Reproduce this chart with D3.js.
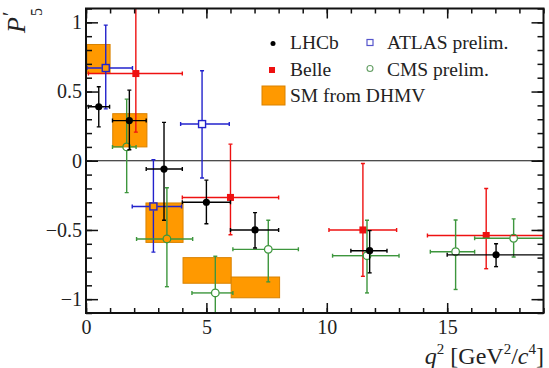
<!DOCTYPE html>
<html>
<head>
<meta charset="utf-8">
<script src="https://cdn.jsdelivr.net/npm/d3@7"></script>
<style>
  body { margin: 0; background: #fff; }
  svg text { font-family: 'Liberation Serif', 'DejaVu Serif', serif; fill: #222; }
</style>
</head>
<body>
<div id="root"></div>
<script>
// ---- data ----
// LHCb
const lhcbX    = [0.53, 1.80, 3.24, 5.00, 7.02, 11.78, 17.03];
const lhcbLo   = [0.10, 1.10, 2.50, 4.00, 6.00, 11.00, 15.00];
const lhcbHi   = [0.98, 2.50, 4.00, 6.00, 8.00, 12.50, 19.00];
const lhcbY    = [0.39, 0.29, -0.06, -0.30, -0.50, -0.65, -0.68];
const lhcbTop  = [0.535, 0.51, 0.277, -0.14, -0.375, -0.505, -0.60];
const lhcbBot  = [0.245, 0.08, -0.43, -0.455, -0.63, -0.81, -0.765];
// Belle
const belleX   = [2.07, 6.00, 11.50, 16.62];
const belleLo  = [0.10, 4.00, 10.09, 14.18];
const belleHi  = [4.00, 8.00, 12.90, 19.00];
const belleY   = [0.63, -0.265, -0.50, -0.54];
const belleTop = [1.30, 0.12, -0.02, -0.20];
const belleBot = [0.207, -0.535, -0.835, -0.78];
// ATLAS
const atlasX   = [0.82, 2.80, 4.82];
const atlasLo  = [0.04, 1.92, 3.93];
const atlasHi  = [1.93, 3.97, 5.95];
const atlasY   = [0.67, -0.33, 0.265];
const atlasTop = [0.98, 0.007, 0.65];
const atlasBot = [0.375, -0.66, -0.125];
// CMS
const cmsX     = [1.69, 3.36, 5.37, 7.57, 11.67, 15.35, 17.76];
const cmsLo    = [1.10, 2.10, 4.40, 6.10, 10.24, 14.30, 16.14];
const cmsHi    = [2.08, 4.43, 6.10, 8.82, 13.00, 16.14, 19.00];
const cmsY     = [0.10, -0.565, -0.955, -0.64, -0.686, -0.657, -0.56];
const cmsTop   = [0.445, -0.195, -0.69, -0.43, -0.43, -0.428, -0.42];
const cmsBot   = [-0.23, -0.91, -1.30, -0.875, -0.955, -0.93, -0.695];
// SM from DHMV (bins and bands)
const smLo     = [0.05, 1.11, 2.49, 4.03, 6.03];
const smHi     = [1.00, 2.53, 4.03, 6.03, 8.04];
const smBandLo = [0.63, 0.10, -0.59, -0.885, -0.99];
const smBandHi = [0.84, 0.34, -0.305, -0.70, -0.84];

const xTickValues = [0, 5, 10, 15];
const yTickValues = [-1, -0.5, 0, 0.5, 1];
const legendNames = ['LHCb', 'Belle', 'SM from DHMV', 'ATLAS prelim.', 'CMS prelim.'];

const root = document.getElementById('root');
const width = 549;
const height = 368;
const pLeft = 86, pRight = 543.5, pTop = 8.5, pBottom = 313;

const orange = '#ff9900';
const orangeEdge = '#d98200';
const colLHCb = '#000000';
const colBelle = '#ee1111';
const colATLAS = '#2222cc';
const colCMS = '#3d963d';

const svg = d3.select(root)
    .append('svg')
    .attr('width', width)
    .attr('height', height);

const x = d3.scaleLinear().domain([0, 19]).range([pLeft, pRight]);
const y = d3.scaleLinear().domain([-1.1, 1.1]).range([pBottom, pTop]);

svg.append('clipPath').attr('id', 'clip')
    .append('rect')
    .attr('x', pLeft).attr('y', pTop)
    .attr('width', pRight - pLeft).attr('height', pBottom - pTop);
const area = svg.append('g').attr('clip-path', 'url(#clip)');

// SM bands
const smData = smLo.map((d, i) => ({lo: d, hi: smHi[i], bl: smBandLo[i], bh: smBandHi[i]}));
area.selectAll('.sm')
    .data(smData)
    .enter()
    .append('rect')
    .attr('class', 'sm')
    .attr('x', d => x(d.lo))
    .attr('y', d => y(d.bh))
    .attr('width', d => x(d.hi) - x(d.lo))
    .attr('height', d => y(d.bl) - y(d.bh))
    .attr('fill', orange)
    .attr('stroke', orangeEdge)
    .attr('stroke-width', 1);

// zero line
area.append('line')
    .attr('x1', x(0)).attr('x2', x(19))
    .attr('y1', y(0)).attr('y2', y(0))
    .attr('stroke', '#111').attr('stroke-width', 1.2);

const makeSeries = (xs, los, his, ys, tops, bots) =>
    xs.map((d, i) => ({x: d, lo: los[i], hi: his[i], y: ys[i], top: tops[i], bot: bots[i]}));

// error bars with a gap around the marker and small end caps
const drawSeries = (data, color, gap, marker) => {
    const g = area.append('g');
    const cap = 2;
    data.forEach(d => {
        const cx = x(d.x), cy = y(d.y);
        const segs = [
            [x(d.lo), cy, cx - gap, cy],
            [cx + gap, cy, x(d.hi), cy],
            [cx, y(d.top), cx, cy - gap],
            [cx, cy + gap, cx, y(d.bot)]
        ];
        segs.forEach(s => {
            g.append('line')
                .attr('x1', s[0]).attr('y1', s[1])
                .attr('x2', s[2]).attr('y2', s[3])
                .attr('stroke', color).attr('stroke-width', 1.4);
        });
        // caps
        [[x(d.lo), cy, 0], [x(d.hi), cy, 0], [cx, y(d.top), 1], [cx, y(d.bot), 1]].forEach(c => {
            g.append('line')
                .attr('x1', c[2] ? c[0] - cap : c[0]).attr('x2', c[2] ? c[0] + cap : c[0])
                .attr('y1', c[2] ? c[1] : c[1] - cap).attr('y2', c[2] ? c[1] : c[1] + cap)
                .attr('stroke', color).attr('stroke-width', 1.4);
        });
        marker(g, cx, cy);
    });
};

const dot = (r, color) => (g, cx, cy) =>
    g.append('circle').attr('cx', cx).attr('cy', cy).attr('r', r).attr('fill', color);
const ring = (r, color) => (g, cx, cy) =>
    g.append('circle').attr('cx', cx).attr('cy', cy).attr('r', r)
        .attr('fill', 'none').attr('stroke', color).attr('stroke-width', 1.3);
const square = (s, color) => (g, cx, cy) =>
    g.append('rect').attr('x', cx - s / 2).attr('y', cy - s / 2)
        .attr('width', s).attr('height', s).attr('fill', color);
const openSquare = (s, color) => (g, cx, cy) =>
    g.append('rect').attr('x', cx - s / 2).attr('y', cy - s / 2)
        .attr('width', s).attr('height', s)
        .attr('fill', 'none').attr('stroke', color).attr('stroke-width', 1.4);

drawSeries(makeSeries(belleX, belleLo, belleHi, belleY, belleTop, belleBot), colBelle, 0, square(7, colBelle));
drawSeries(makeSeries(atlasX, atlasLo, atlasHi, atlasY, atlasTop, atlasBot), colATLAS, 4, openSquare(7, colATLAS));
drawSeries(makeSeries(cmsX, cmsLo, cmsHi, cmsY, cmsTop, cmsBot), colCMS, 4, ring(3.8, colCMS));
drawSeries(makeSeries(lhcbX, lhcbLo, lhcbHi, lhcbY, lhcbTop, lhcbBot), colLHCb, 0, dot(3.6, colLHCb));

// ---- axes, ticks pointing inward ----
const minorX = d3.range(0, 20, 1);
const minorY = d3.range(-11, 12, 1).map(v => v / 10);

const xAxisB = d3.axisBottom(x).tickValues(xTickValues).tickSize(-10).tickPadding(7).tickFormat(d3.format(''));
const xAxisBm = d3.axisBottom(x).tickValues(minorX).tickSize(-5).tickFormat('');
const xAxisT = d3.axisTop(x).tickValues(xTickValues).tickSize(-10).tickFormat('');
const xAxisTm = d3.axisTop(x).tickValues(minorX).tickSize(-5).tickFormat('');
const yAxisL = d3.axisLeft(y).tickValues(yTickValues).tickSize(-12).tickPadding(4).tickFormat(d3.format(''));
const yAxisLm = d3.axisLeft(y).tickValues(minorY).tickSize(-6).tickFormat('');
const yAxisR = d3.axisRight(y).tickValues(yTickValues).tickSize(-12).tickFormat('');
const yAxisRm = d3.axisRight(y).tickValues(minorY).tickSize(-6).tickFormat('');

const addAxis = (axis, tx, ty) => {
    const g = svg.append('g')
        .attr('transform', `translate(${tx},${ty})`)
        .call(axis);
    g.select('.domain').remove();
    g.selectAll('.tick line').attr('stroke', '#111').attr('stroke-width', 1.5);
    g.selectAll('.tick text')
        .attr('font-family', "'Liberation Serif', serif")
        .attr('font-size', 20)
        .attr('fill', '#222');
    return g;
};
addAxis(xAxisBm, 0, pBottom);
addAxis(xAxisB, 0, pBottom);
addAxis(xAxisTm, 0, pTop);
addAxis(xAxisT, 0, pTop);
addAxis(yAxisLm, pLeft, 0);
addAxis(yAxisL, pLeft, 0);
addAxis(yAxisRm, pRight, 0);
addAxis(yAxisR, pRight, 0);

// frame
svg.append('rect')
    .attr('x', pLeft).attr('y', pTop)
    .attr('width', pRight - pLeft).attr('height', pBottom - pTop)
    .attr('fill', 'none').attr('stroke', '#111').attr('stroke-width', 2);

// axis titles
const xt = svg.append('text')
    .attr('x', 544).attr('y', 364)
    .attr('text-anchor', 'end')
    .attr('font-size', 24);
xt.append('tspan').attr('font-style', 'italic').text('q');
xt.append('tspan').attr('font-size', 15).attr('dy', -10).text('2');
xt.append('tspan').attr('dy', 10).text(' [GeV');
xt.append('tspan').attr('font-size', 15).attr('dy', -10).text('2');
xt.append('tspan').attr('dy', 10).text('/');
xt.append('tspan').attr('font-style', 'italic').text('c');
xt.append('tspan').attr('font-size', 15).attr('dy', -10).text('4');
xt.append('tspan').attr('dy', 10).text(']');

const yt = svg.append('g').attr('transform', 'translate(25,33) rotate(-90)');
yt.append('text').attr('x', 0).attr('y', 0)
    .attr('font-size', 26).attr('font-style', 'italic').text('P');
yt.append('text').attr('x', 17).attr('y', -8)
    .attr('font-size', 20).text('\u2032');
yt.append('text').attr('x', 17).attr('y', 17)
    .attr('font-size', 16).text('5');

// ---- legend ----
const legend = svg.append('g');
const legendFont = 19.5;
legend.append('circle').attr('cx', 273).attr('cy', 43.5).attr('r', 2.5).attr('fill', colLHCb);
legend.append('rect').attr('x', 269).attr('y', 67).attr('width', 6).attr('height', 6).attr('fill', colBelle);
legend.append('rect').attr('x', 262).attr('y', 86).attr('width', 23).attr('height', 19)
    .attr('fill', orange).attr('stroke', orangeEdge);
legend.append('rect').attr('x', 367).attr('y', 39.5).attr('width', 6).attr('height', 6)
    .attr('fill', 'none').attr('stroke', '#5555cc').attr('stroke-width', 1.2);
legend.append('circle').attr('cx', 370).attr('cy', 68.5).attr('r', 3)
    .attr('fill', 'none').attr('stroke', '#66a066').attr('stroke-width', 1.1);
const legendPos = [[290, 49], [290, 76], [290, 102], [387, 49], [387, 76]];
legend.selectAll('.ltext')
    .data(legendNames)
    .enter()
    .append('text')
    .attr('class', 'ltext')
    .attr('x', (d, i) => legendPos[i][0])
    .attr('y', (d, i) => legendPos[i][1])
    .attr('font-size', legendFont)
    .text(d => d);
</script>
</body>
</html>
